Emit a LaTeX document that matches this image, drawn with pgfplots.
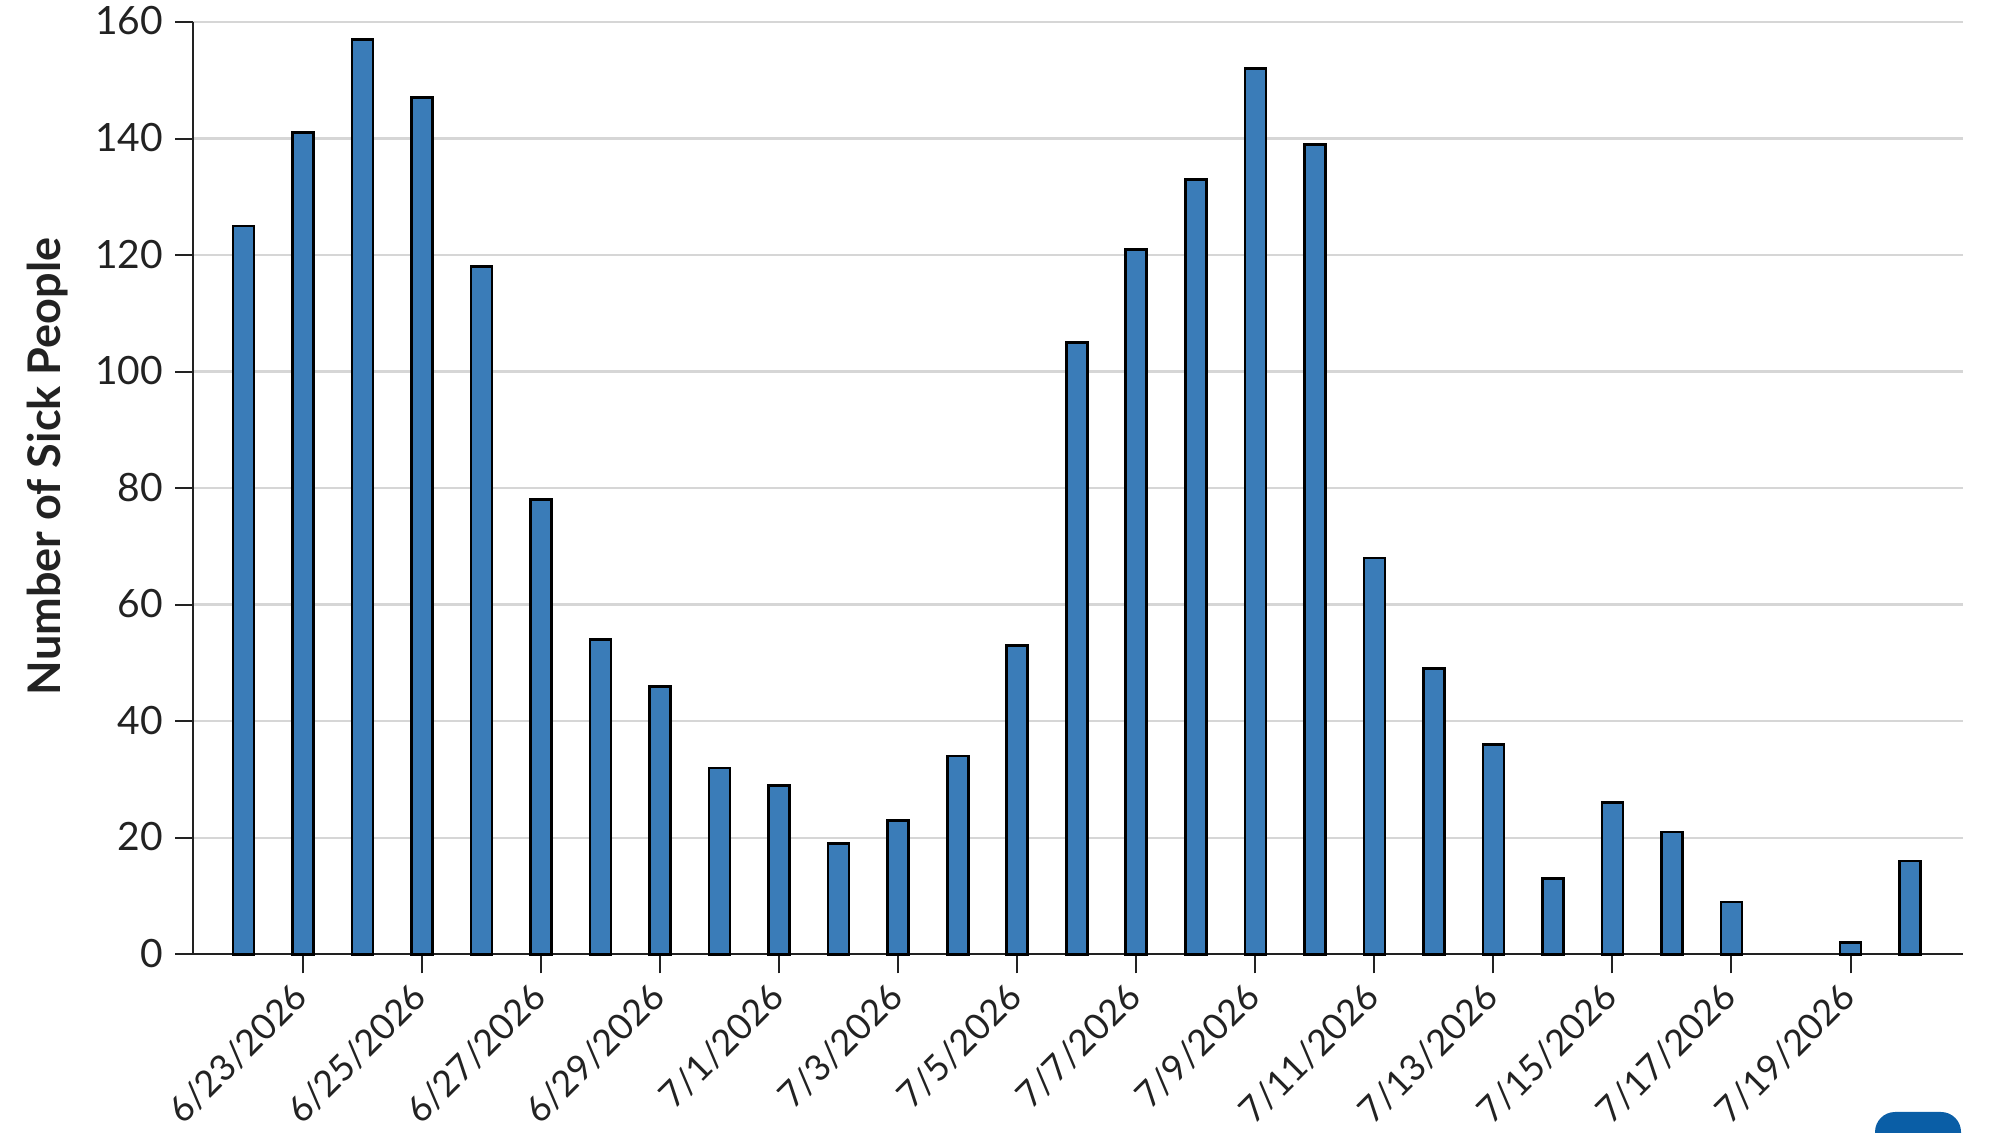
\documentclass[border=0pt]{standalone}
\usepackage{fontspec}
\setmainfont{Lato}
\usepackage{pgfplots}
\pgfplotsset{compat=1.18}
\definecolor{barblue}{HTML}{3A7CB8}
\definecolor{btn}{HTML}{0A5EA6}
\definecolor{txt}{HTML}{222222}
\definecolor{gridc}{HTML}{D6D6D6}
\begin{document}
\begin{tikzpicture}[x=1pt,y=1pt]
\useasboundingbox (0,0) rectangle (1000,566.5);
\begin{scope}
\clip (0,0) rectangle (1000,566.5);
\fill[btn,rounded corners=10pt] (937.5,-25) rectangle (980.5,10.5);
\end{scope}
\begin{axis}[
  at={(96.65pt,89.35pt)},
  scale only axis, width=884.85pt, height=466.15pt,
  anchor=south west,
  xmin=-0.843, xmax=28.89, ymin=0, ymax=160,
  axis y line*=left, axis x line*=bottom,
  axis line style={-,draw=txt,line width=1.1pt},
  ytick={0,20,...,160},
  xtick={1,3,...,27},
  xticklabels={6/23/2026,6/25/2026,6/27/2026,6/29/2026,7/1/2026,7/3/2026,7/5/2026,7/7/2026,7/9/2026,7/11/2026,7/13/2026,7/15/2026,7/17/2026,7/19/2026},
  tick align=outside,
  major tick length=9pt,
  tick style={draw=txt,line width=1pt},
  xtick style={/pgfplots/major tick length=9.5pt},
  ymajorgrids, grid style={gridc,line width=1.2pt},
  /pgf/number format/assume math mode=true,
  yticklabel style={font=\fontsize{19.5}{21}\selectfont,text=txt,xshift=-2.5pt,yshift=0.5pt},
  xticklabel style={font=\fontsize{18}{20}\selectfont,text=txt,rotate=45,anchor=north east,inner sep=0pt,xshift=-7pt,yshift=1.5pt},
  ylabel={\textbf{Number of Sick People}},
  ylabel style={font=\fontsize{22.5}{24}\selectfont,text=txt,at={(axis description cs:0,0.5)},anchor=center,xshift=10.8pt,yshift=73pt},
  ybar, bar width=10.5pt, bar shift=0pt,
  clip=false,
]
\addplot[fill=barblue,draw=black,line width=1.3pt] coordinates {
(0,125)(1,141)(2,157)(3,147)(4,118)(5,78)(6,54)(7,46)(8,32)(9,29)(10,19)(11,23)(12,34)(13,53)(14,105)(15,121)(16,133)(17,152)(18,139)(19,68)(20,49)(21,36)(22,13)(23,26)(24,21)(25,9)(27,2)(28,16)};
\end{axis}
\end{tikzpicture}
\end{document}
